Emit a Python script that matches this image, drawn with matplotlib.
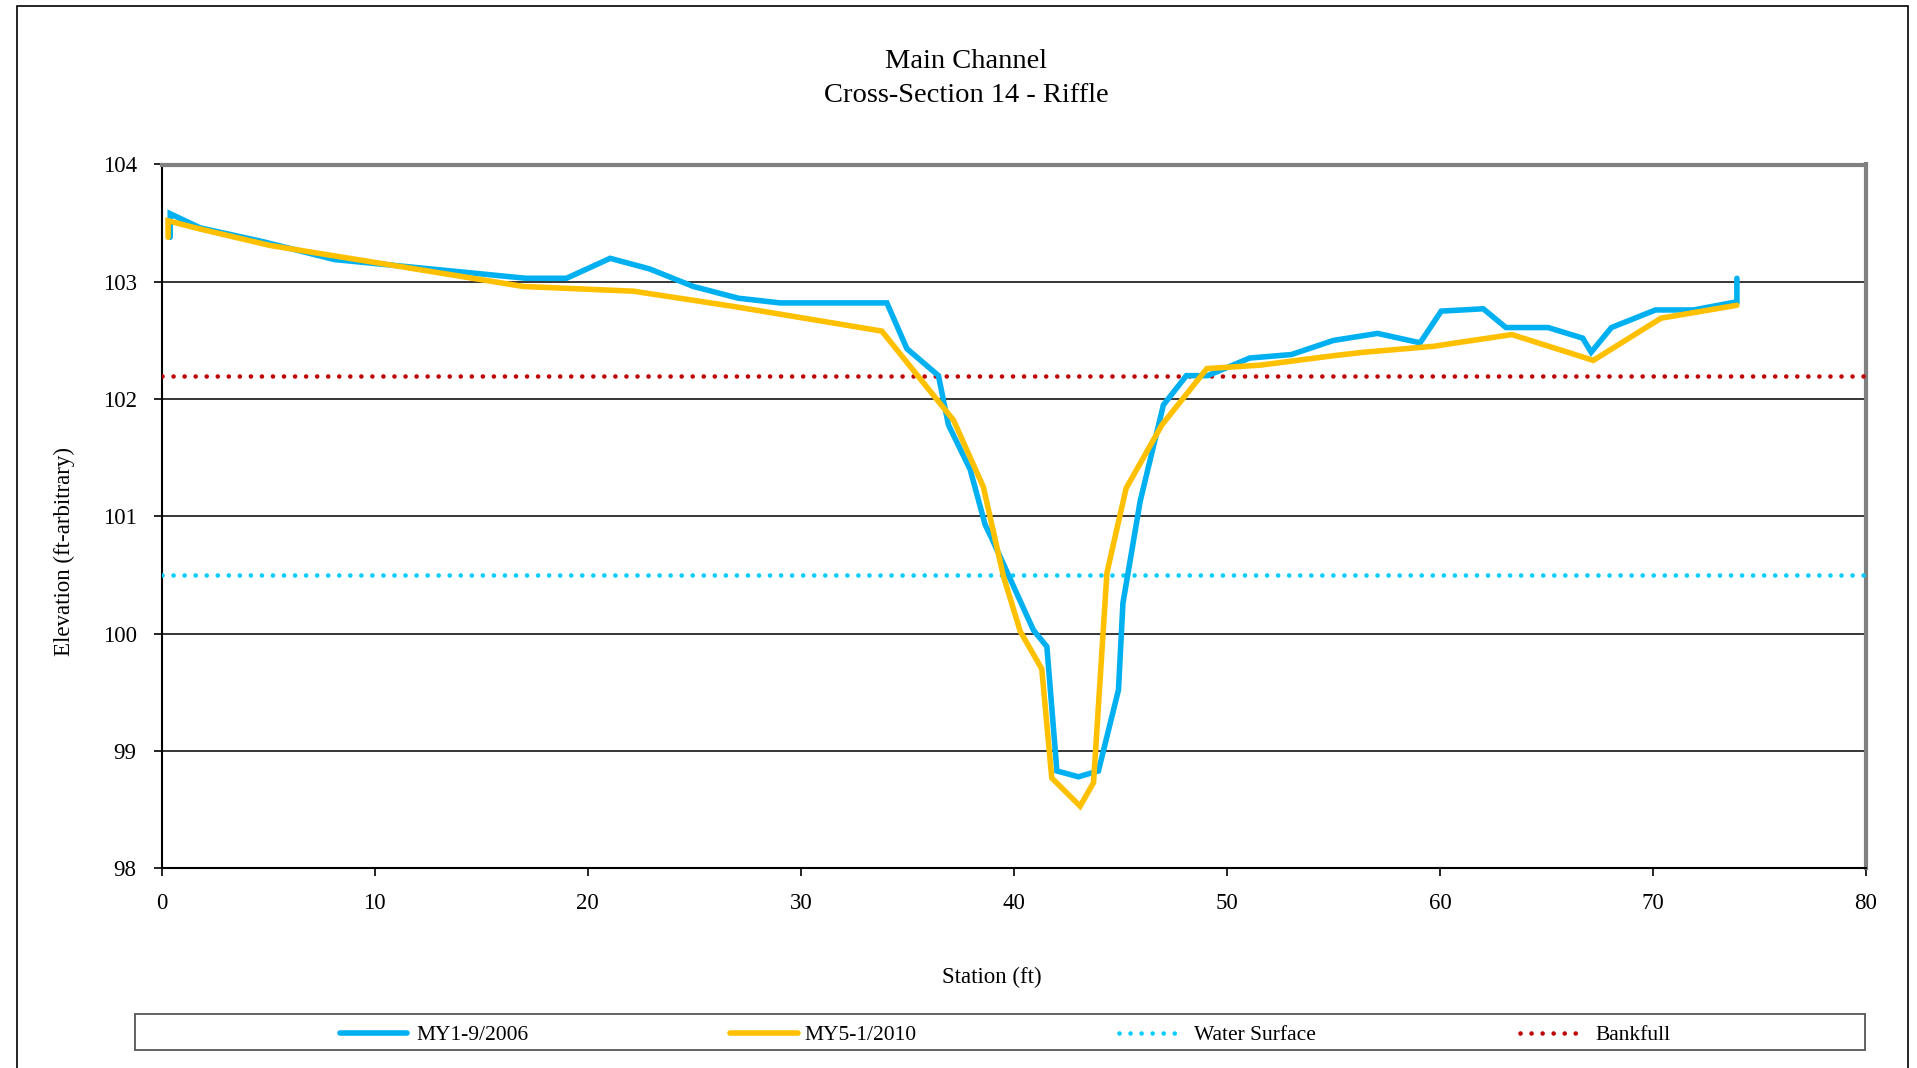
import matplotlib
matplotlib.use("Agg")
import matplotlib.pyplot as plt
from matplotlib.lines import Line2D
from matplotlib.patches import Rectangle

plt.rcParams['font.family'] = ['Liberation Serif', 'DejaVu Serif']

# ---- data ----
my1_station = [0.4, 0.4, 1.8, 4.8, 8.1, 12.6, 17.1, 19.0, 21.05, 22.9, 24.96, 27.07, 29.03,
               34.04, 34.98, 36.46, 36.93, 37.95, 38.65, 38.97, 40.92, 41.55, 42.02, 43.03,
               43.97, 44.91, 45.12, 45.93, 47.02, 48.1, 49.1, 51.07, 53.03, 55.0, 57.07,
               59.07, 60.06, 62.03, 63.1, 65.08, 66.7, 67.1, 68.05, 70.12, 71.91, 73.94, 73.94]
my1_elev = [103.38, 103.58, 103.46, 103.34, 103.19, 103.11, 103.03, 103.03, 103.2, 103.11,
            102.96, 102.86, 102.82, 102.82, 102.43, 102.2, 101.78, 101.4, 100.93, 100.81,
            100.03, 99.89, 98.83, 98.78, 98.83, 99.52, 100.26, 101.13, 101.95, 102.2, 102.2,
            102.35, 102.38, 102.5, 102.56, 102.48, 102.75, 102.77, 102.61, 102.61, 102.52,
            102.4, 102.61, 102.76, 102.76, 102.83, 103.03]

my5_station = [0.3, 0.3, 1.8, 5.08, 16.98, 22.14, 26.84, 33.8, 37.17, 38.57, 39.51, 40.3,
               41.31, 41.78, 43.11, 43.74, 44.37, 45.27, 46.95, 49.06, 51.6, 55.0, 56.46,
               59.7, 60.78, 63.38, 67.2, 70.38, 73.94]
my5_elev = [103.38, 103.52, 103.45, 103.31, 102.96, 102.92, 102.79, 102.58, 101.82, 101.25,
            100.49, 100.02, 99.7, 98.77, 98.53, 98.73, 100.52, 101.24, 101.78, 102.26,
            102.29, 102.37, 102.4, 102.45, 102.48, 102.55, 102.33, 102.69, 102.8]

water_station = [0, 80]
water_elev = [100.5, 100.5]
bankfull_station = [0, 80]
bankfull_elev = [102.2, 102.2]

series_labels = ["MY1-9/2006", "MY5-1/2010", "Water Surface", "Bankfull"]
title_lines = ["Main Channel", "Cross-Section 14 - Riffle"]
x_ticks = [0, 10, 20, 30, 40, 50, 60, 70, 80]
y_ticks = [98, 99, 100, 101, 102, 103, 104]

BLUE = "#00B0F0"
YELLOW = "#FFC000"
CYAN = "#00CCFF"
RED = "#C00000"

W, H = 1917, 1068
fig = plt.figure(figsize=(W / 100, H / 100), dpi=100)
fig.patch.set_facecolor("white")

# outer chart border
fig.add_artist(Rectangle((16.7 / W, -0.01), (1908 - 16.7) / W, 1 - 6 / H + 0.01,
                         transform=fig.transFigure, fill=False, edgecolor="black", lw=1.2))

ax = fig.add_axes([161.7 / W, 1 - 868.3 / H, (1866 - 161.7) / W, (868.3 - 164.5) / H])

ax.set_xlim(0, 80)
ax.set_ylim(98, 104)
ax.set_xticks(x_ticks)
ax.set_yticks(y_ticks)
ax.tick_params(axis="both", direction="out", length=6, width=1.2, labelsize=16.5,
               colors="black")
ax.tick_params(axis="x", pad=12)
ax.tick_params(axis="y", pad=12)
for yv in y_ticks[1:-1]:
    ax.axhline(yv, color="black", lw=1.1, zorder=1)

for s in ["left", "bottom"]:
    ax.spines[s].set_color("black")
    ax.spines[s].set_linewidth(1.5)
for s in ["top", "right"]:
    ax.spines[s].set_color("#808080")
    ax.spines[s].set_linewidth(3)

dot_style = dict(lw=3.3, linestyle=(0, (0.01, 2.4)), dash_capstyle="round", zorder=3)
ax.plot(water_station, water_elev, color=CYAN, **dot_style)
ax.plot(bankfull_station, bankfull_elev, color=RED, **dot_style)
ax.plot(my1_station, my1_elev, color=BLUE, lw=4, solid_capstyle="round",
        solid_joinstyle="miter", zorder=4)
ax.plot(my5_station, my5_elev, color=YELLOW, lw=4, solid_capstyle="round",
        solid_joinstyle="miter", zorder=5)

# titles and labels
fig.text(966 / W, 1 - 61 / H, title_lines[0], ha="center", va="center", fontsize=20.5)
fig.text(966 / W, 1 - 95 / H, title_lines[1], ha="center", va="center", fontsize=20.5)
fig.text(992 / W, 1 - 977 / H, "Station (ft)", ha="center", va="center", fontsize=16.5)
fig.text(64 / W, 1 - 552 / H, "Elevation (ft-arbitrary)", ha="center", va="center",
         rotation=90, fontsize=16.5)

# legend box
lx0, lx1, ly0, ly1 = 134.5, 1864.5, 1013.5, 1050
fig.add_artist(Rectangle((lx0 / W, 1 - ly1 / H), (lx1 - lx0) / W, (ly1 - ly0) / H,
                         transform=fig.transFigure, facecolor="white",
                         edgecolor="#555555", lw=1.3))
ly = 1 - 1032.5 / H
ty = 1 - 1035.5 / H
handles = [
    (340, 407, 416, dict(color=BLUE, lw=4, solid_capstyle="round")),
    (730, 798, 804, dict(color=YELLOW, lw=4, solid_capstyle="round")),
    (1119, 1183, 1194, dict(color=CYAN, lw=3.3, linestyle=(0, (0.01, 2.4)),
                            dash_capstyle="round")),
    (1520, 1586, 1595, dict(color=RED, lw=3.3, linestyle=(0, (0.01, 2.4)),
                            dash_capstyle="round")),
]
for (h0, h1, tx, style), lab in zip(handles, series_labels):
    fig.add_artist(Line2D([h0 / W, h1 / W], [ly, ly], transform=fig.transFigure, **style))
    fig.text(tx / W, ty, lab, ha="left", va="center", fontsize=15.5)

fig.savefig("out.png", dpi=100, facecolor="white")
